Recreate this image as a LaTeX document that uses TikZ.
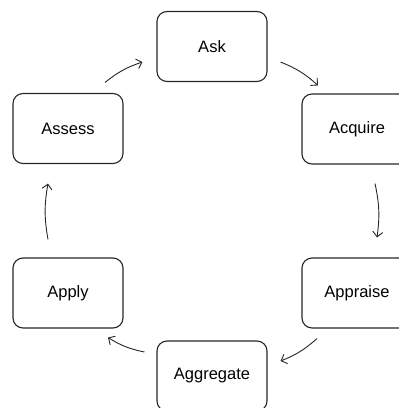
\documentclass[tikz,border=0pt]{standalone}
\usepackage{fontspec}
\setmainfont{Liberation Sans}
\usetikzlibrary{arrows.meta}
\begin{document}
\begin{tikzpicture}[x=1pt,y=-1pt,
  stage/.style={draw=black!85,line width=1.1pt,rounded corners=10pt,
    minimum width=110pt,minimum height=70pt,inner sep=0pt,
    font=\fontsize{16.5}{18}\selectfont},
  flow/.style={draw=black!85,line width=0.9pt,
    -{Straight Barb[length=5pt,width=10pt]},bend left=10}]
  \useasboundingbox (0,0) rectangle (399,408);
  % the six stages of the cycle
  \node[stage] (ask)       at (212,46.5) {Ask};
  \node[stage] (acquire)   at (357,129)  {Acquire};
  \node[stage] (appraise)  at (357,293)  {Appraise};
  \node[stage] (aggregate) at (212,376)  {Aggregate};
  \node[stage] (apply)     at (68,293)   {Apply};
  \node[stage] (assess)    at (68,128.5) {Assess};
  % clockwise connectors between consecutive stages
  \draw[flow] ([shift={(37,-10.5)}]assess.north) to ([shift={(-14,15.5)}]ask.west);
  \draw[flow] ([shift={(13,15.5)}]ask.east) to ([shift={(-39,-8)}]acquire.north);
  \draw[flow] ([shift={(18,19)}]acquire.south) to ([shift={(20,-20)}]appraise.north);
  \draw[flow] ([shift={(-40,10)}]appraise.south) to ([shift={(13,-15)}]aggregate.east);
  \draw[flow] ([shift={(-12,-24)}]aggregate.west) to ([shift={(40,9)}]apply.south);
  \draw[flow] ([shift={(-20,-18)}]apply.north) to ([shift={(-20,19.5)}]assess.south);
\end{tikzpicture}
\end{document}
